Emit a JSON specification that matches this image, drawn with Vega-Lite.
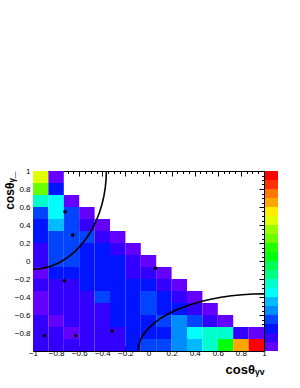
{
"$schema":"https://vega.github.io/schema/vega-lite/v6.json",
"width":231,"height":180,
"autosize":{"type":"none"},
"padding":{"left":33,"top":171,"right":36,"bottom":37},
"background":"white",
"config":{"view":{"stroke":null},"font":"Liberation Sans",
 "axis":{"grid":false,"domainColor":"#000","tickColor":"#000","labelColor":"#000","titleColor":"#000","zindex":1,"labelFont":"Liberation Sans","labelFontSize":8,"labelFlush":false,"labelOverlap":false,"tickWidth":1,"domainWidth":1,"titleFont":"Liberation Sans"}},
"datasets":{
"cells":[
{"xa":-1,"xb":-0.8667,"ya":0.8667,"yb":1,"z":14.5},
{"xa":-0.8667,"xb":-0.7333,"ya":0.8667,"yb":1,"z":0.5},
{"xa":-1,"xb":-0.8667,"ya":0.7333,"yb":0.8667,"z":12.5},
{"xa":-0.8667,"xb":-0.7333,"ya":0.7333,"yb":0.8667,"z":2.5},
{"xa":-1,"xb":-0.8667,"ya":0.6,"yb":0.7333,"z":7.5},
{"xa":-0.8667,"xb":-0.7333,"ya":0.6,"yb":0.7333,"z":6.5},
{"xa":-0.7333,"xb":-0.6,"ya":0.6,"yb":0.7333,"z":0.5},
{"xa":-1,"xb":-0.8667,"ya":0.4667,"yb":0.6,"z":3.5},
{"xa":-0.8667,"xb":-0.7333,"ya":0.4667,"yb":0.6,"z":6.5},
{"xa":-0.7333,"xb":-0.6,"ya":0.4667,"yb":0.6,"z":3.5},
{"xa":-0.6,"xb":-0.4667,"ya":0.4667,"yb":0.6,"z":0.5},
{"xa":-1,"xb":-0.8667,"ya":0.3333,"yb":0.4667,"z":2.5},
{"xa":-0.8667,"xb":-0.7333,"ya":0.3333,"yb":0.4667,"z":5.5},
{"xa":-0.7333,"xb":-0.6,"ya":0.3333,"yb":0.4667,"z":3.5},
{"xa":-0.6,"xb":-0.4667,"ya":0.3333,"yb":0.4667,"z":1.5},
{"xa":-0.4667,"xb":-0.3333,"ya":0.3333,"yb":0.4667,"z":0.5},
{"xa":-1,"xb":-0.8667,"ya":0.2,"yb":0.3333,"z":2.5},
{"xa":-0.8667,"xb":-0.7333,"ya":0.2,"yb":0.3333,"z":3.5},
{"xa":-0.7333,"xb":-0.6,"ya":0.2,"yb":0.3333,"z":3.5},
{"xa":-0.6,"xb":-0.4667,"ya":0.2,"yb":0.3333,"z":3.5},
{"xa":-0.4667,"xb":-0.3333,"ya":0.2,"yb":0.3333,"z":1.5},
{"xa":-0.3333,"xb":-0.2,"ya":0.2,"yb":0.3333,"z":0.5},
{"xa":-1,"xb":-0.8667,"ya":0.0667,"yb":0.2,"z":1.5},
{"xa":-0.8667,"xb":-0.7333,"ya":0.0667,"yb":0.2,"z":3.5},
{"xa":-0.7333,"xb":-0.6,"ya":0.0667,"yb":0.2,"z":3.5},
{"xa":-0.6,"xb":-0.4667,"ya":0.0667,"yb":0.2,"z":2.5},
{"xa":-0.4667,"xb":-0.3333,"ya":0.0667,"yb":0.2,"z":2.5},
{"xa":-0.3333,"xb":-0.2,"ya":0.0667,"yb":0.2,"z":1.5},
{"xa":-0.2,"xb":-0.0667,"ya":0.0667,"yb":0.2,"z":0.5},
{"xa":-1,"xb":-0.8667,"ya":-0.0667,"yb":0.0667,"z":1.5},
{"xa":-0.8667,"xb":-0.7333,"ya":-0.0667,"yb":0.0667,"z":3.5},
{"xa":-0.7333,"xb":-0.6,"ya":-0.0667,"yb":0.0667,"z":3.5},
{"xa":-0.6,"xb":-0.4667,"ya":-0.0667,"yb":0.0667,"z":2.5},
{"xa":-0.4667,"xb":-0.3333,"ya":-0.0667,"yb":0.0667,"z":2.5},
{"xa":-0.3333,"xb":-0.2,"ya":-0.0667,"yb":0.0667,"z":2.5},
{"xa":-0.2,"xb":-0.0667,"ya":-0.0667,"yb":0.0667,"z":1.5},
{"xa":-0.0667,"xb":0.0667,"ya":-0.0667,"yb":0.0667,"z":0.5},
{"xa":-1,"xb":-0.8667,"ya":-0.2,"yb":-0.0667,"z":0.5},
{"xa":-0.8667,"xb":-0.7333,"ya":-0.2,"yb":-0.0667,"z":2.5},
{"xa":-0.7333,"xb":-0.6,"ya":-0.2,"yb":-0.0667,"z":2.5},
{"xa":-0.6,"xb":-0.4667,"ya":-0.2,"yb":-0.0667,"z":2.5},
{"xa":-0.4667,"xb":-0.3333,"ya":-0.2,"yb":-0.0667,"z":2.5},
{"xa":-0.3333,"xb":-0.2,"ya":-0.2,"yb":-0.0667,"z":2.5},
{"xa":-0.2,"xb":-0.0667,"ya":-0.2,"yb":-0.0667,"z":1.5},
{"xa":-0.0667,"xb":0.0667,"ya":-0.2,"yb":-0.0667,"z":1.5},
{"xa":0.0667,"xb":0.2,"ya":-0.2,"yb":-0.0667,"z":0.5},
{"xa":-1,"xb":-0.8667,"ya":-0.3333,"yb":-0.2,"z":1.5},
{"xa":-0.8667,"xb":-0.7333,"ya":-0.3333,"yb":-0.2,"z":1.5},
{"xa":-0.7333,"xb":-0.6,"ya":-0.3333,"yb":-0.2,"z":1.5},
{"xa":-0.6,"xb":-0.4667,"ya":-0.3333,"yb":-0.2,"z":2.5},
{"xa":-0.4667,"xb":-0.3333,"ya":-0.3333,"yb":-0.2,"z":2.5},
{"xa":-0.3333,"xb":-0.2,"ya":-0.3333,"yb":-0.2,"z":2.5},
{"xa":-0.2,"xb":-0.0667,"ya":-0.3333,"yb":-0.2,"z":2.5},
{"xa":-0.0667,"xb":0.0667,"ya":-0.3333,"yb":-0.2,"z":2.5},
{"xa":0.0667,"xb":0.2,"ya":-0.3333,"yb":-0.2,"z":1.5},
{"xa":0.2,"xb":0.3333,"ya":-0.3333,"yb":-0.2,"z":0.5},
{"xa":-1,"xb":-0.8667,"ya":-0.4667,"yb":-0.3333,"z":0.5},
{"xa":-0.8667,"xb":-0.7333,"ya":-0.4667,"yb":-0.3333,"z":1.5},
{"xa":-0.7333,"xb":-0.6,"ya":-0.4667,"yb":-0.3333,"z":1.5},
{"xa":-0.6,"xb":-0.4667,"ya":-0.4667,"yb":-0.3333,"z":1.5},
{"xa":-0.4667,"xb":-0.3333,"ya":-0.4667,"yb":-0.3333,"z":3.5},
{"xa":-0.3333,"xb":-0.2,"ya":-0.4667,"yb":-0.3333,"z":2.5},
{"xa":-0.2,"xb":-0.0667,"ya":-0.4667,"yb":-0.3333,"z":2.5},
{"xa":-0.0667,"xb":0.0667,"ya":-0.4667,"yb":-0.3333,"z":3.5},
{"xa":0.0667,"xb":0.2,"ya":-0.4667,"yb":-0.3333,"z":2.5},
{"xa":0.2,"xb":0.3333,"ya":-0.4667,"yb":-0.3333,"z":1.5},
{"xa":0.3333,"xb":0.4667,"ya":-0.4667,"yb":-0.3333,"z":0.5},
{"xa":-1,"xb":-0.8667,"ya":-0.6,"yb":-0.4667,"z":0.5},
{"xa":-0.8667,"xb":-0.7333,"ya":-0.6,"yb":-0.4667,"z":1.5},
{"xa":-0.7333,"xb":-0.6,"ya":-0.6,"yb":-0.4667,"z":1.5},
{"xa":-0.6,"xb":-0.4667,"ya":-0.6,"yb":-0.4667,"z":1.5},
{"xa":-0.4667,"xb":-0.3333,"ya":-0.6,"yb":-0.4667,"z":1.5},
{"xa":-0.3333,"xb":-0.2,"ya":-0.6,"yb":-0.4667,"z":2.5},
{"xa":-0.2,"xb":-0.0667,"ya":-0.6,"yb":-0.4667,"z":2.5},
{"xa":-0.0667,"xb":0.0667,"ya":-0.6,"yb":-0.4667,"z":3.5},
{"xa":0.0667,"xb":0.2,"ya":-0.6,"yb":-0.4667,"z":2.5},
{"xa":0.2,"xb":0.3333,"ya":-0.6,"yb":-0.4667,"z":2.5},
{"xa":0.3333,"xb":0.4667,"ya":-0.6,"yb":-0.4667,"z":1.5},
{"xa":0.4667,"xb":0.6,"ya":-0.6,"yb":-0.4667,"z":0.5},
{"xa":-1,"xb":-0.8667,"ya":-0.7333,"yb":-0.6,"z":1.5},
{"xa":-0.8667,"xb":-0.7333,"ya":-0.7333,"yb":-0.6,"z":0.5},
{"xa":-0.7333,"xb":-0.6,"ya":-0.7333,"yb":-0.6,"z":1.5},
{"xa":-0.6,"xb":-0.4667,"ya":-0.7333,"yb":-0.6,"z":1.5},
{"xa":-0.4667,"xb":-0.3333,"ya":-0.7333,"yb":-0.6,"z":1.5},
{"xa":-0.3333,"xb":-0.2,"ya":-0.7333,"yb":-0.6,"z":2.5},
{"xa":-0.2,"xb":-0.0667,"ya":-0.7333,"yb":-0.6,"z":2.5},
{"xa":-0.0667,"xb":0.0667,"ya":-0.7333,"yb":-0.6,"z":2.5},
{"xa":0.0667,"xb":0.2,"ya":-0.7333,"yb":-0.6,"z":3.5},
{"xa":0.2,"xb":0.3333,"ya":-0.7333,"yb":-0.6,"z":4.5},
{"xa":0.3333,"xb":0.4667,"ya":-0.7333,"yb":-0.6,"z":3.5},
{"xa":0.4667,"xb":0.6,"ya":-0.7333,"yb":-0.6,"z":1.5},
{"xa":0.6,"xb":0.7333,"ya":-0.7333,"yb":-0.6,"z":0.5},
{"xa":-1,"xb":-0.8667,"ya":-0.8667,"yb":-0.7333,"z":1.5},
{"xa":-0.8667,"xb":-0.7333,"ya":-0.8667,"yb":-0.7333,"z":1.5},
{"xa":-0.7333,"xb":-0.6,"ya":-0.8667,"yb":-0.7333,"z":0.5},
{"xa":-0.6,"xb":-0.4667,"ya":-0.8667,"yb":-0.7333,"z":1.5},
{"xa":-0.4667,"xb":-0.3333,"ya":-0.8667,"yb":-0.7333,"z":1.5},
{"xa":-0.3333,"xb":-0.2,"ya":-0.8667,"yb":-0.7333,"z":1.5},
{"xa":-0.2,"xb":-0.0667,"ya":-0.8667,"yb":-0.7333,"z":2.5},
{"xa":-0.0667,"xb":0.0667,"ya":-0.8667,"yb":-0.7333,"z":2.5},
{"xa":0.0667,"xb":0.2,"ya":-0.8667,"yb":-0.7333,"z":2.5},
{"xa":0.2,"xb":0.3333,"ya":-0.8667,"yb":-0.7333,"z":4.5},
{"xa":0.3333,"xb":0.4667,"ya":-0.8667,"yb":-0.7333,"z":6.5},
{"xa":0.4667,"xb":0.6,"ya":-0.8667,"yb":-0.7333,"z":7.5},
{"xa":0.6,"xb":0.7333,"ya":-0.8667,"yb":-0.7333,"z":7.5},
{"xa":0.7333,"xb":0.8667,"ya":-0.8667,"yb":-0.7333,"z":1.5},
{"xa":0.8667,"xb":1,"ya":-0.8667,"yb":-0.7333,"z":0.5},
{"xa":-1,"xb":-0.8667,"ya":-1,"yb":-0.8667,"z":1.5},
{"xa":-0.8667,"xb":-0.7333,"ya":-1,"yb":-0.8667,"z":1.5},
{"xa":-0.7333,"xb":-0.6,"ya":-1,"yb":-0.8667,"z":1.5},
{"xa":-0.6,"xb":-0.4667,"ya":-1,"yb":-0.8667,"z":1.5},
{"xa":-0.4667,"xb":-0.3333,"ya":-1,"yb":-0.8667,"z":1.5},
{"xa":-0.3333,"xb":-0.2,"ya":-1,"yb":-0.8667,"z":1.5},
{"xa":-0.2,"xb":-0.0667,"ya":-1,"yb":-0.8667,"z":2.5},
{"xa":-0.0667,"xb":0.0667,"ya":-1,"yb":-0.8667,"z":3.5},
{"xa":0.0667,"xb":0.2,"ya":-1,"yb":-0.8667,"z":3.5},
{"xa":0.2,"xb":0.3333,"ya":-1,"yb":-0.8667,"z":4.5},
{"xa":0.3333,"xb":0.4667,"ya":-1,"yb":-0.8667,"z":5.5},
{"xa":0.4667,"xb":0.6,"ya":-1,"yb":-0.8667,"z":7.5},
{"xa":0.6,"xb":0.7333,"ya":-1,"yb":-0.8667,"z":10.5},
{"xa":0.7333,"xb":0.8667,"ya":-1,"yb":-0.8667,"z":16.5},
{"xa":0.8667,"xb":1,"ya":-1,"yb":-0.8667,"z":19.5}
],
"curve1":[
{"t":0,"x":-1,"y":-0.09},{"t":1,"x":-0.9446,"y":-0.0859},{"t":2,"x":-0.8898,"y":-0.0734},{"t":3,"x":-0.8357,"y":-0.0528},{"t":4,"x":-0.7828,"y":-0.0243},{"t":5,"x":-0.7316,"y":0.0121},{"t":6,"x":-0.6825,"y":0.0561},{"t":7,"x":-0.6358,"y":0.1071},{"t":8,"x":-0.5918,"y":0.1651},{"t":9,"x":-0.551,"y":0.2293},{"t":10,"x":-0.5136,"y":0.2993},{"t":11,"x":-0.4798,"y":0.3748},{"t":12,"x":-0.4501,"y":0.455},{"t":13,"x":-0.4245,"y":0.5394},{"t":14,"x":-0.4033,"y":0.6272},{"t":15,"x":-0.3866,"y":0.7179},{"t":16,"x":-0.3747,"y":0.8108},{"t":17,"x":-0.3674,"y":0.905},{"t":18,"x":-0.365,"y":1}
],
"curve2":[
{"t":0,"x":-0.09,"y":-1},{"t":1,"x":-0.0859,"y":-0.9446},{"t":2,"x":-0.0734,"y":-0.8898},{"t":3,"x":-0.0528,"y":-0.8357},{"t":4,"x":-0.0243,"y":-0.7828},{"t":5,"x":0.0121,"y":-0.7316},{"t":6,"x":0.0561,"y":-0.6825},{"t":7,"x":0.1071,"y":-0.6358},{"t":8,"x":0.1651,"y":-0.5918},{"t":9,"x":0.2293,"y":-0.551},{"t":10,"x":0.2993,"y":-0.5136},{"t":11,"x":0.3748,"y":-0.4798},{"t":12,"x":0.455,"y":-0.4501},{"t":13,"x":0.5394,"y":-0.4245},{"t":14,"x":0.6272,"y":-0.4033},{"t":15,"x":0.7179,"y":-0.3866},{"t":16,"x":0.8108,"y":-0.3747},{"t":17,"x":0.905,"y":-0.3674},{"t":18,"x":1,"y":-0.365}
],
"dots":[
{"x":-0.723,"y":0.548},{"x":-0.656,"y":0.289},{"x":-0.729,"y":-0.219},{"x":0.062,"y":-0.081},{"x":-0.902,"y":-0.83},{"x":-0.63,"y":-0.83},{"x":-0.316,"y":-0.778}
]
},
"layer":[
{"data":{"name":"cells"},"mark":{"type":"rect"},
 "encoding":{
  "x":{"field":"xa","type":"quantitative","scale":{"domain":[-1,1],"nice":false,"zero":false},
   "axis":{"orient":"bottom","values":[-1,-0.8,-0.6,-0.4,-0.2,0,0.2,0.4,0.6,0.8,1],"tickSize":-5,"labelPadding":3,"format":".1~f","title":"cosθᵧᵥ","titleAnchor":"end","titleFontSize":13,"titleFontWeight":"bold","titlePadding":6}},
  "x2":{"field":"xb"},
  "y":{"field":"ya","type":"quantitative","scale":{"domain":[-1,1],"nice":false,"zero":false},
   "axis":{"orient":"left","values":[-0.8,-0.6,-0.4,-0.2,0,0.2,0.4,0.6,0.8,1],"tickSize":-5,"labelPadding":8,"format":".1~f","title":"cosθᵧ_","titleAnchor":"end","titleFontSize":12,"titleFontWeight":"bold","titlePadding":-2}},
  "y2":{"field":"yb"},
  "color":{"field":"z","type":"quantitative",
   "scale":{"type":"quantize","domain":[0,20],"range":["#6300ff","#3300ff","#0014ff","#0044ff","#008bff","#00bbff","#00fffc","#00ffcc","#00ff85","#00ff55","#00ff0e","#22ff00","#69ff00","#99ff00","#e0ff00","#ffee00","#ffa700","#ff7700","#ff3000","#ff0000"]},
   "legend":{"type":"gradient","orient":"none","legendX":232,"legendY":0,"direction":"vertical","gradientLength":180,"gradientThickness":13,"gradientStrokeWidth":0,"labelOpacity":0,"title":null,"padding":0,"offset":0}}
 }},
{"data":{"name":"curve1"},"mark":{"type":"line","color":"#000","strokeWidth":1.6},
 "encoding":{
  "x":{"field":"x","type":"quantitative","scale":{"domain":[-1,1],"nice":false,"zero":false},
   "axis":{"orient":"top","values":[-1,-0.8,-0.6,-0.4,-0.2,0,0.2,0.4,0.6,0.8,1],"tickSize":-5,"labels":false,"title":null}},
  "y":{"field":"y","type":"quantitative","scale":{"domain":[-1,1],"nice":false,"zero":false},
   "axis":{"orient":"right","values":[-1,-0.8,-0.6,-0.4,-0.2,0,0.2,0.4,0.6,0.8,1],"tickSize":-5,"labels":false,"title":null}},
  "order":{"field":"t","type":"quantitative"}
 }},
{"data":{"name":"curve2"},"mark":{"type":"line","color":"#000","strokeWidth":1.6},
 "encoding":{
  "x":{"field":"x","type":"quantitative","scale":{"domain":[-1,1],"nice":false,"zero":false},
   "axis":{"orient":"bottom","values":[-0.95,-0.9,-0.85,-0.75,-0.7,-0.65,-0.55,-0.5,-0.45,-0.35,-0.3,-0.25,-0.15,-0.1,-0.05,0.05,0.1,0.15,0.25,0.3,0.35,0.45,0.5,0.55,0.65,0.7,0.75,0.85,0.9,0.95],"tickSize":-2.5,"labels":false,"domain":false,"title":null}},
  "y":{"field":"y","type":"quantitative","scale":{"domain":[-1,1],"nice":false,"zero":false},
   "axis":{"orient":"left","values":[-0.95,-0.9,-0.85,-0.75,-0.7,-0.65,-0.55,-0.5,-0.45,-0.35,-0.3,-0.25,-0.15,-0.1,-0.05,0.05,0.1,0.15,0.25,0.3,0.35,0.45,0.5,0.55,0.65,0.7,0.75,0.85,0.9,0.95],"tickSize":-2.5,"labels":false,"domain":false,"title":null}},
  "order":{"field":"t","type":"quantitative"}
 }},
{"data":{"name":"dots"},"mark":{"type":"circle","color":"#000","size":13,"opacity":1},
 "encoding":{
  "x":{"field":"x","type":"quantitative","scale":{"domain":[-1,1],"nice":false,"zero":false},
   "axis":{"orient":"top","values":[-0.95,-0.9,-0.85,-0.75,-0.7,-0.65,-0.55,-0.5,-0.45,-0.35,-0.3,-0.25,-0.15,-0.1,-0.05,0.05,0.1,0.15,0.25,0.3,0.35,0.45,0.5,0.55,0.65,0.7,0.75,0.85,0.9,0.95],"tickSize":-2.5,"labels":false,"domain":false,"title":null}},
  "y":{"field":"y","type":"quantitative","scale":{"domain":[-1,1],"nice":false,"zero":false},
   "axis":{"orient":"right","values":[-0.95,-0.9,-0.85,-0.75,-0.7,-0.65,-0.55,-0.5,-0.45,-0.35,-0.3,-0.25,-0.15,-0.1,-0.05,0.05,0.1,0.15,0.25,0.3,0.35,0.45,0.5,0.55,0.65,0.7,0.75,0.85,0.9,0.95],"tickSize":-2.5,"labels":false,"domain":false,"title":null}}
 }}
],
"resolve":{"axis":{"x":"independent","y":"independent"}}
}
